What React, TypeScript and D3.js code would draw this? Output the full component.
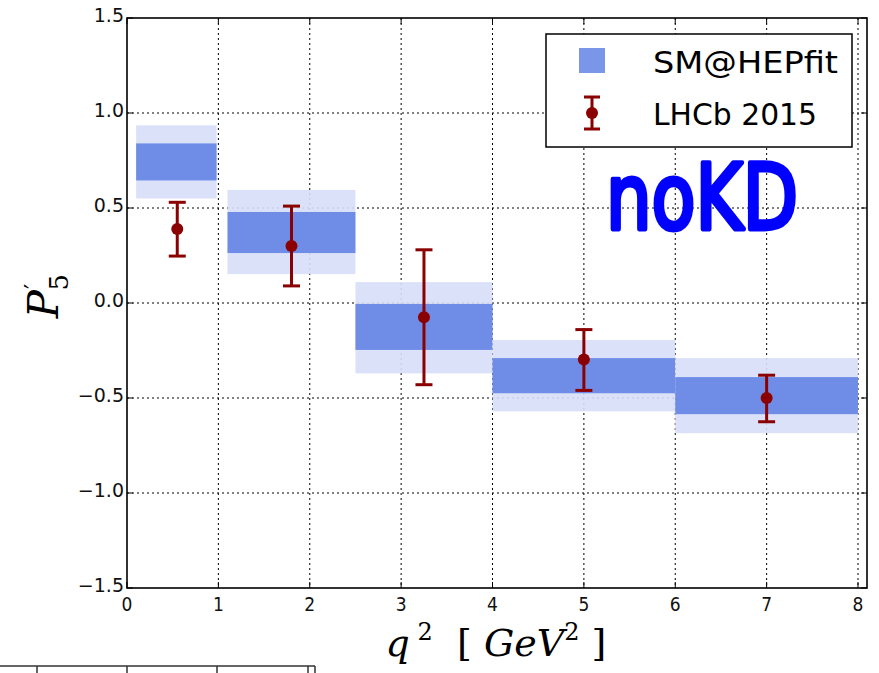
import React from "react";
import * as d3 from "d3";

// q^2 bins
const binLo = [0.1, 1.1, 2.5, 4, 6];
const binHi = [0.98, 2.5, 4, 6, 8];
// SM@HEPfit bands (outer = light, inner = dark)
const smOuterLo = [0.55, 0.152, -0.37, -0.57, -0.685];
const smOuterHi = [0.935, 0.595, 0.11, -0.195, -0.29];
const smInnerLo = [0.645, 0.263, -0.247, -0.475, -0.585];
const smInnerHi = [0.84, 0.479, -0.005, -0.29, -0.39];
// LHCb 2015 points
const lhcbX = [0.55, 1.8, 3.25, 5.0, 7.0];
const lhcbY = [0.39, 0.3, -0.075, -0.297, -0.5];
const lhcbHi = [0.53, 0.51, 0.28, -0.14, -0.38];
const lhcbLo = [0.247, 0.09, -0.43, -0.46, -0.625];
// ticks
const xTicks = [0, 1, 2, 3, 4, 5, 6, 7, 8];
const yTicks = [-1.5, -1.0, -0.5, 0.0, 0.5, 1.0, 1.5];
const legendLabels = ["SM@HEPfit", "LHCb 2015"];
const annotation = "noKD";

const W = 879;
const H = 673;
const L = 127, R = 867, T = 18, B = 588;

export default function App() {
  const x = d3.scaleLinear().domain([0, 8.1]).range([L, L + (8.1 * (858 - 127)) / 8]);
  const y = d3.scaleLinear().domain([-1.5, 1.5]).range([B, T]);
  const dark = "#8b0000";
  const grid = "2,3";
  const fmtY = (v: number) => (v < 0 ? "\u2212" : "") + Math.abs(v).toFixed(1);

  return (
    <svg width={W} height={H} style={{ position: "absolute", left: 0, top: 0, background: "#fff" }}>
      <rect x={0} y={0} width={W} height={H} fill="#fff" />
      {/* grid */}
      {xTicks.filter((t) => t > 0).map((t) => (
        <line key={"gx" + t} x1={x(t)} x2={x(t)} y1={T} y2={B} stroke="#000" strokeWidth={1} strokeDasharray={grid} />
      ))}
      {yTicks.filter((t) => t > -1.5 && t < 1.5).map((t) => (
        <line key={"gy" + t} x1={L} x2={R} y1={y(t)} y2={y(t)} stroke="#000" strokeWidth={1} strokeDasharray={grid} />
      ))}
      {/* SM bands */}
      {binLo.map((lo, i) => (
        <g key={"sm" + i}>
          <rect x={x(lo)} width={x(binHi[i]) - x(lo)} y={y(smOuterHi[i])} height={y(smOuterLo[i]) - y(smOuterHi[i])} fill="#d6def7" fillOpacity={0.9} />
          <rect x={x(lo)} width={x(binHi[i]) - x(lo)} y={y(smInnerHi[i])} height={y(smInnerLo[i]) - y(smInnerHi[i])} fill="#6b8ae6" fillOpacity={0.97} />
        </g>
      ))}
      {/* LHCb points */}
      {lhcbX.map((xv, i) => (
        <g key={"lh" + i} stroke={dark} strokeWidth={3}>
          <line x1={x(xv)} x2={x(xv)} y1={y(lhcbHi[i])} y2={y(lhcbLo[i])} />
          <line x1={x(xv) - 8.5} x2={x(xv) + 8.5} y1={y(lhcbHi[i])} y2={y(lhcbHi[i])} />
          <line x1={x(xv) - 8.5} x2={x(xv) + 8.5} y1={y(lhcbLo[i])} y2={y(lhcbLo[i])} />
          <circle cx={x(xv)} cy={y(lhcbY[i])} r={6} fill={dark} stroke="none" />
        </g>
      ))}
      {/* frame */}
      <rect x={L} y={T} width={R - L} height={B - T} fill="none" stroke="#000" strokeWidth={1.6} />
      {/* ticks */}
      {xTicks.map((t) => (
        <g key={"tx" + t}>
          <line x1={x(t)} x2={x(t)} y1={B} y2={B - 6} stroke="#000" strokeWidth={1} />
          <line x1={x(t)} x2={x(t)} y1={T} y2={T + 6} stroke="#000" strokeWidth={1} />
          <text x={x(t)} y={611} textAnchor="middle" fontFamily="DejaVu Sans Condensed, DejaVu Sans" fontSize={19} fill="#111">{t}</text>
        </g>
      ))}
      {yTicks.map((t) => (
        <g key={"ty" + t}>
          <line x1={L} x2={L + 6} y1={y(t)} y2={y(t)} stroke="#000" strokeWidth={1} />
          <line x1={R} x2={R - 6} y1={y(t)} y2={y(t)} stroke="#000" strokeWidth={1} />
          <text x={124} y={y(t) + 4} textAnchor="end" fontFamily="DejaVu Sans" fontSize={19} fill="#111">{fmtY(t)}</text>
        </g>
      ))}
      {/* axis labels */}
      <text x={0} y={0} transform="translate(58,296) rotate(-90)" textAnchor="middle" fontFamily="DejaVu Serif, Liberation Serif" fontStyle="italic" fontSize={42} fill="#000">
        P<tspan dx={1} dy={-16} fontSize={24} fontStyle="normal">{"\u2032"}</tspan><tspan dx={-7} dy={26} fontSize={26} fontStyle="normal">5</tspan>
      </text>
      <text x={496} y={656} textAnchor="middle" fontFamily="DejaVu Serif, Liberation Serif" fontSize={38} fill="#000" xmlSpace="preserve">
        <tspan fontStyle="italic">q</tspan>
        <tspan dy={-16} fontSize={24}> 2</tspan>
        <tspan dy={16}>  [ </tspan>
        <tspan fontStyle="italic">GeV</tspan>
        <tspan dy={-16} fontSize={24}>2</tspan>
        <tspan dy={16}> ]</tspan>
      </text>
      {/* legend */}
      <rect x={546} y={34} width={306} height={113} fill="#fff" stroke="#000" strokeWidth={1.5} />
      <rect x={579} y={48} width={26} height={25} fill="#7a96e8" />
      <text x={653} y={73} fontFamily="DejaVu Sans" fontSize={30} textLength={185} lengthAdjust="spacingAndGlyphs" fill="#000">{legendLabels[0]}</text>
      <g stroke={dark} strokeWidth={3}>
        <line x1={592} x2={592} y1={97} y2={129} />
        <line x1={584} x2={600} y1={97} y2={97} />
        <line x1={584} x2={600} y1={129} y2={129} />
        <circle cx={592} cy={113} r={6} fill={dark} stroke="none" />
      </g>
      <text x={653} y={125} fontFamily="DejaVu Sans" fontSize={30} textLength={164} lengthAdjust="spacingAndGlyphs" fill="#000">{legendLabels[1]}</text>
      {/* annotation */}
      <g transform="translate(606,229) scale(1,1.2)">
        <text x={0} y={0} fontFamily="DejaVu Sans" fontSize={76} textLength={192} lengthAdjust="spacingAndGlyphs" fill="#0000ff" stroke="#0000ff" strokeWidth={4} strokeLinejoin="round">{annotation}</text>
      </g>
      {/* partial table at bottom-left */}
      <g stroke="#333" strokeWidth={1.5}>
        <line x1={0} x2={315} y1={666} y2={666} />
        {[37, 127, 217, 308, 315].map((v) => (
          <line key={"bt" + v} x1={v} x2={v} y1={666} y2={673} />
        ))}
      </g>
    </svg>
  );
}
